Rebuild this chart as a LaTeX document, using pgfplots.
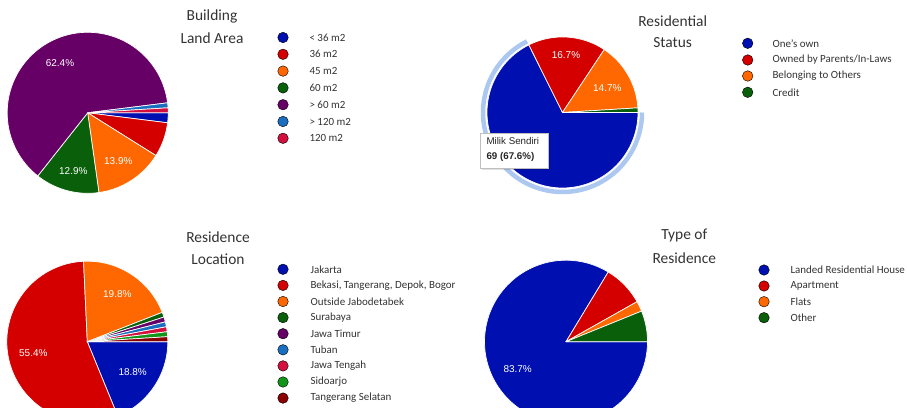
\documentclass[border=0pt]{standalone}
\usepackage{fontspec}
\setmainfont{Carlito}
\newfontfamily\arialf{Liberation Sans}
\usepackage{pgfplots}
\pgfplotsset{compat=1.18}
\definecolor{cblue}{HTML}{0010B0}
\definecolor{cred}{HTML}{D40000}
\definecolor{corange}{HTML}{FF6800}
\definecolor{cgreen}{HTML}{0A5F0A}
\definecolor{cpurple}{HTML}{660066}
\definecolor{clblue}{HTML}{1A6EBF}
\definecolor{ccrim}{HTML}{D3103D}
\definecolor{cgreentwo}{HTML}{11961A}
\definecolor{cdred}{HTML}{8B0000}
\definecolor{cring}{HTML}{ADC8F0}
\definecolor{ctext}{HTML}{333333}
% slice: cx, cy, r, from-count, to-count, total, colour
\newcommand{\slice}[7]{%
  \addplot[draw=white, line width=0.7bp, line join=round, fill=#7,
    domain=-360*#5/#6:-360*#4/#6, samples=90, variable=\t]
    ({#1+#3*cos(\t)},{#2+#3*sin(\t)}) -- (#1,#2) -- cycle;}
% legend marker
\newcommand{\lm}[3]{%
  \addplot[only marks, mark=*, mark size=5.3pt, mark options={draw=none, fill=#3}]
    coordinates {(#1,#2)};}
\newcommand{\legf}{\fontsize{11}{12}\selectfont\color{ctext}}
\newcommand{\titf}{\fontsize{15.5}{18}\selectfont\color{ctext}}
\newcommand{\pctf}{\arialf\fontsize{10}{12}\selectfont\color{white}}
\begin{document}
\begin{tikzpicture}
\path[use as bounding box] (0,0) rectangle (907bp,408bp);
\begin{axis}[scale only axis, width=907bp, height=408bp,
  xmin=0, xmax=907, ymin=0, ymax=408, hide axis, clip=true]
% ---------- Pie 1: Building Land Area (n=101)
\slice{87.7}{295.2}{80.5}{0}{2}{101}{cblue}
\slice{87.7}{295.2}{80.5}{2}{9}{101}{cred}
\slice{87.7}{295.2}{80.5}{9}{23}{101}{corange}
\slice{87.7}{295.2}{80.5}{23}{36}{101}{cgreen}
\slice{87.7}{295.2}{80.5}{36}{99}{101}{cpurple}
\slice{87.7}{295.2}{80.5}{99}{100}{101}{clblue}
\slice{87.7}{295.2}{80.5}{100}{101}{101}{ccrim}
% ---------- Pie 2: Residential Status (n=102)
\addplot[draw=cring, line width=4.5bp, domain=-243.5:0, samples=150, variable=\t]
  ({562.5+79.5*cos(\t)},{295.5+79.5*sin(\t)});
\slice{562.5}{295.5}{75.5}{0}{69}{102}{cblue}
\slice{562.5}{295.5}{75.5}{69}{86}{102}{cred}
\slice{562.5}{295.5}{75.5}{86}{101}{102}{corange}
\slice{562.5}{295.5}{75.5}{101}{102}{102}{cgreen}
% ---------- Pie 3: Residence Location (n=101)
\slice{87.3}{66.3}{80.5}{0}{19}{101}{cblue}
\slice{87.3}{66.3}{80.5}{19}{75}{101}{cred}
\slice{87.3}{66.3}{80.5}{75}{95}{101}{corange}
\slice{87.3}{66.3}{80.5}{95}{96}{101}{cgreen}
\slice{87.3}{66.3}{80.5}{96}{97}{101}{cpurple}
\slice{87.3}{66.3}{80.5}{97}{98}{101}{clblue}
\slice{87.3}{66.3}{80.5}{98}{99}{101}{ccrim}
\slice{87.3}{66.3}{80.5}{99}{100}{101}{cgreentwo}
\slice{87.3}{66.3}{80.5}{100}{101}{101}{cdred}
% ---------- Pie 4: Type of Residence (n=98)
\slice{566}{66.3}{81.5}{0}{82}{98}{cblue}
\slice{566}{66.3}{81.5}{82}{90}{98}{cred}
\slice{566}{66.3}{81.5}{90}{92}{98}{corange}
\slice{566}{66.3}{81.5}{92}{98}{98}{cgreen}
% ---------- legend markers
\lm{283}{370.5}{cblue}
\lm{283}{353.7}{cred}
\lm{283}{336.9}{corange}
\lm{283}{320.1}{cgreen}
\lm{283}{303.3}{cpurple}
\lm{283}{286.5}{clblue}
\lm{283}{269.7}{ccrim}
\lm{747.7}{364.7}{cblue}
\lm{747.7}{348}{cred}
\lm{747.7}{332}{corange}
\lm{747.7}{315.7}{cgreen}
\lm{283}{138.7}{cblue}
\lm{283}{122.6}{cred}
\lm{283}{106.5}{corange}
\lm{283}{90.4}{cgreen}
\lm{283}{74.3}{cpurple}
\lm{283}{58.2}{clblue}
\lm{283}{42.1}{ccrim}
\lm{283}{26}{cgreentwo}
\lm{283}{9.9}{cdred}
\lm{764}{138}{cblue}
\lm{764}{122}{cred}
\lm{764}{106.3}{corange}
\lm{764}{90.3}{cgreen}
% ---------- legend texts
\node[anchor=west, font=\legf] at (axis cs:306,370.5) {< 36 m2};
\node[anchor=west, font=\legf] at (axis cs:306,353.7) {36 m2};
\node[anchor=west, font=\legf] at (axis cs:306,336.9) {45 m2};
\node[anchor=west, font=\legf] at (axis cs:306,320.1) {60 m2};
\node[anchor=west, font=\legf] at (axis cs:306,303.3) {> 60 m2};
\node[anchor=west, font=\legf] at (axis cs:306,286.5) {> 120 m2};
\node[anchor=west, font=\legf] at (axis cs:306,269.7) {120 m2};
\node[anchor=west, font=\legf] at (axis cs:769,364.7) {One's own};
\node[anchor=west, font=\legf] at (axis cs:769,348) {Owned by Parents/In-Laws};
\node[anchor=west, font=\legf] at (axis cs:769,332) {Belonging to Others};
\node[anchor=west, font=\legf] at (axis cs:769,315.7) {Credit};
\node[anchor=west, font=\legf] at (axis cs:307,138.7) {Jakarta};
\node[anchor=west, font=\legf] at (axis cs:307,122.6) {Bekasi, Tangerang, Depok, Bogor};
\node[anchor=west, font=\legf] at (axis cs:307,106.5) {Outside Jabodetabek};
\node[anchor=west, font=\legf] at (axis cs:307,90.4) {Surabaya};
\node[anchor=west, font=\legf] at (axis cs:307,74.3) {Jawa Timur};
\node[anchor=west, font=\legf] at (axis cs:307,58.2) {Tuban};
\node[anchor=west, font=\legf] at (axis cs:307,42.1) {Jawa Tengah};
\node[anchor=west, font=\legf] at (axis cs:307,26) {Sidoarjo};
\node[anchor=west, font=\legf] at (axis cs:307,9.9) {Tangerang Selatan};
\node[anchor=west, font=\legf] at (axis cs:787,138) {Landed Residential House};
\node[anchor=west, font=\legf] at (axis cs:787,122) {Apartment};
\node[anchor=west, font=\legf] at (axis cs:787,106.3) {Flats};
\node[anchor=west, font=\legf] at (axis cs:787,90.3) {Other};
% ---------- titles
\node[font=\titf] at (axis cs:212,392) {Building};
\node[font=\titf] at (axis cs:212,370) {Land Area};
\node[font=\titf] at (axis cs:672.7,387) {Residential};
\node[font=\titf] at (axis cs:672.7,365) {Status};
\node[font=\titf] at (axis cs:218,170.7) {Residence};
\node[font=\titf] at (axis cs:218,148.7) {Location};
\node[font=\titf] at (axis cs:684.3,173) {Type of};
\node[font=\titf] at (axis cs:684.3,149.7) {Residence};
% ---------- percentage labels
\node[font=\pctf] at (axis cs:60,344.7) {62.4\%};
\node[font=\pctf] at (axis cs:73.3,237.3) {12.9\%};
\node[font=\pctf] at (axis cs:118.3,247) {13.9\%};
\node[font=\pctf] at (axis cs:566,353) {16.7\%};
\node[font=\pctf] at (axis cs:607.3,319.7) {14.7\%};
\node[font=\pctf] at (axis cs:117.3,113.7) {19.8\%};
\node[font=\pctf] at (axis cs:33.3,54.7) {55.4\%};
\node[font=\pctf] at (axis cs:132.7,36.3) {18.8\%};
\node[font=\pctf] at (axis cs:517.7,38.7) {83.7\%};
% ---------- tooltip
\fill[black, opacity=0.12] (axis cs:481.5,273.2) rectangle (axis cs:550,238);
\draw[fill=white, draw=black!25, line width=0.6bp] (axis cs:480,274.7) rectangle (axis cs:548.3,239.7);
\node[anchor=west, font=\arialf\fontsize{9.8}{11}\selectfont\color{black!85}] at (axis cs:483,266.5) {Milik Sendiri};
\node[anchor=west, font=\arialf\bfseries\fontsize{9.8}{11}\selectfont\color{black!85}] at (axis cs:483,251) {69 (67.6\%)};
\end{axis}
\end{tikzpicture}
\end{document}
